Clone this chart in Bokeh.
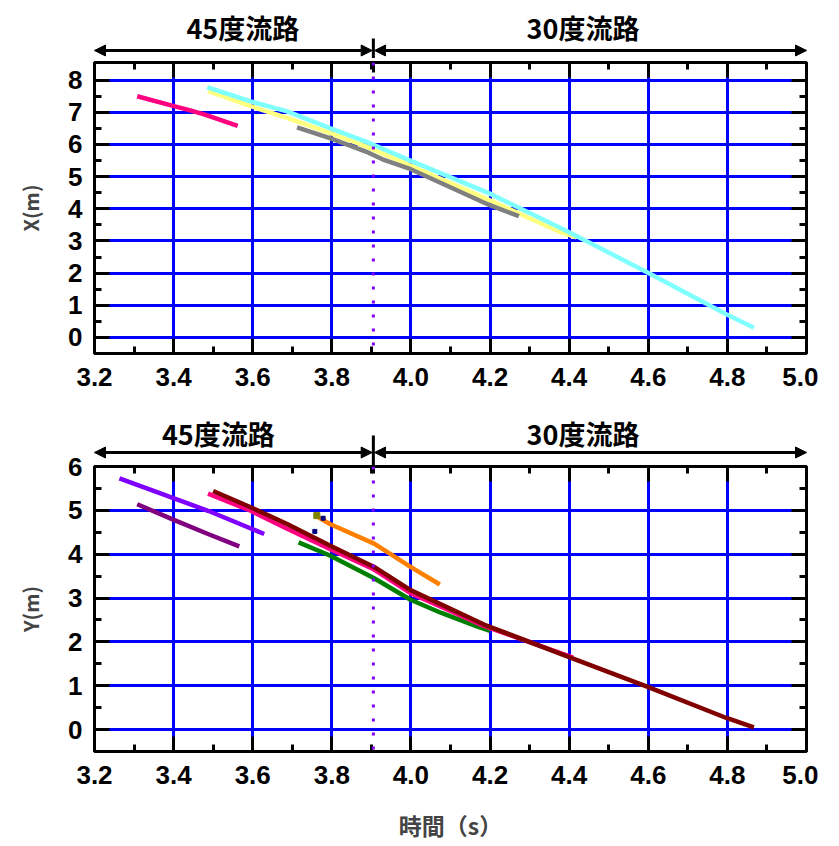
from bokeh.plotting import figure
from bokeh.models import (LinearAxis, FixedTicker, Range1d, Span, Label, Arrow,
                          NormalHead, PrintfTickFormatter)
from bokeh.layouts import column
from bokeh.embed import file_html
from bokeh.resources import INLINE

# ---------------- data ----------------
x_major = [3.2, 3.4, 3.6, 3.8, 4.0, 4.2, 4.4, 4.6, 4.8, 5.0]
x_minor = [3.3, 3.5, 3.7, 3.9, 4.1, 4.3, 4.5, 4.7, 4.9]
yX_major = [0, 1, 2, 3, 4, 5, 6, 7, 8]
yX_minor = [0.5, 1.5, 2.5, 3.5, 4.5, 5.5, 6.5, 7.5]
yY_major = [0, 1, 2, 3, 4, 5, 6]
yY_minor = [0.5, 1.5, 2.5, 3.5, 4.5, 5.5]

boundary_t = 3.905
section_labels = ["45度流路", "30度流路"]

# top chart: X(m)
pinkX_t = [3.308, 3.396, 3.442, 3.479, 3.562]
pinkX_v = [7.50, 7.21, 7.06, 6.93, 6.58]
yellowX_t = [3.487, 3.595, 3.687, 3.795, 3.886, 3.994, 4.198, 4.377, 4.418]
yellowX_v = [7.66, 7.19, 6.83, 6.36, 5.94, 5.37, 4.27, 3.28, 3.11]
cyanX_t = [3.485, 3.595, 3.687, 3.795, 3.886, 3.994, 4.198, 4.390, 4.597, 4.796, 4.867]
cyanX_v = [7.78, 7.34, 7.03, 6.51, 6.09, 5.52, 4.48, 3.33, 2.03, 0.73, 0.30]
grayX_t = [3.712, 3.795, 3.886, 3.928, 3.994, 4.198, 4.273]
grayX_v = [6.53, 6.20, 5.78, 5.54, 5.26, 4.12, 3.77]

# bottom chart: Y(m)
violetY_t = [3.263, 3.396, 3.487, 3.629]
violetY_v = [5.73, 5.29, 4.99, 4.46]
purpleY_t = [3.308, 3.396, 3.487, 3.566]
purpleY_v = [5.14, 4.80, 4.46, 4.18]
pinkY_t = [3.487, 3.595, 3.687, 3.795, 3.907, 3.999, 4.186, 4.410]
pinkY_v = [5.38, 4.99, 4.58, 4.12, 3.65, 3.11, 2.36, 1.64]
maroonY_t = [3.500, 3.595, 3.687, 3.795, 3.907, 3.999, 4.186, 4.410, 4.597, 4.796, 4.867]
maroonY_v = [5.44, 5.07, 4.69, 4.20, 3.71, 3.18, 2.39, 1.62, 0.98, 0.27, 0.05]
greenY_t = [3.716, 3.795, 3.907, 3.999, 4.077, 4.165, 4.200]
greenY_v = [4.27, 3.97, 3.45, 2.96, 2.66, 2.36, 2.25]
orangeY_t = [3.766, 3.795, 3.907, 3.999, 4.073]
orangeY_v = [4.84, 4.69, 4.24, 3.71, 3.31]
oliveY_t = [3.762]
oliveY_v = [4.88]
navyY_t = [3.778, 3.757]
navyY_v = [4.82, 4.52]

TICK_FONT = "Liberation Sans"
CJK_FONT = "Noto Sans CJK JP"
LW = 4.5
BL = 94   # left border
BR = 12   # right border
FIG_W = 818


def style_axis(ax, major, minor, show_labels, fmt=None):
    ax.ticker = FixedTicker(ticks=major, minor_ticks=minor)
    ax.axis_line_width = 3
    ax.axis_line_color = "black"
    ax.major_tick_in = 15
    ax.major_tick_out = 0
    ax.minor_tick_in = 7
    ax.minor_tick_out = 0
    ax.major_tick_line_width = 3
    ax.minor_tick_line_width = 3
    ax.major_tick_line_color = "black"
    ax.minor_tick_line_color = "black"
    if fmt is not None:
        ax.formatter = fmt
    if show_labels:
        ax.major_label_text_font = TICK_FONT
        ax.major_label_text_font_style = "bold"
        ax.major_label_text_font_size = "26px"
        ax.major_label_text_color = "black"
    else:
        ax.major_label_text_color = None
        ax.major_label_text_font_size = "1px"
        ax.major_label_standoff = 0


def make_header(height, y_arrow, y_text, y_vtop, x45, x_range):
    h = figure(width=FIG_W, height=height, x_range=x_range, y_range=Range1d(0, height),
               output_backend="svg", toolbar_location=None,
               x_axis_location=None, y_axis_location=None,
               min_border_left=BL, min_border_right=BR, min_border_top=0,
               min_border_bottom=0)
    h.outline_line_color = None
    h.xgrid.visible = False
    h.ygrid.visible = False
    head = dict(size=11, fill_color="black", line_color="black", line_width=1)
    h.add_layout(Arrow(x_start=3.2, y_start=y_arrow, x_end=boundary_t - 0.003, y_end=y_arrow,
                       start=NormalHead(**head), end=NormalHead(**head),
                       line_width=3, line_color="black"))
    h.add_layout(Arrow(x_start=boundary_t + 0.003, y_start=y_arrow, x_end=5.0, y_end=y_arrow,
                       start=NormalHead(**head), end=NormalHead(**head),
                       line_width=3, line_color="black"))
    h.segment(x0=[boundary_t], y0=[y_vtop], x1=[boundary_t], y1=[0],
              line_color="black", line_width=3)
    for txt, xx in zip(section_labels, [x45, 4.435]):
        h.add_layout(Label(x=xx, y=y_text, text=txt, text_align="center",
                           text_baseline="middle", text_font=CJK_FONT,
                           text_font_style="bold", text_font_size="27px",
                           text_color="black"))
    return h


def make_fig(height, btop, bbottom, yr, ymaj, ymin, ylabel, div_out, div_in, xlabel=None):
    p = figure(width=FIG_W, height=height, x_range=Range1d(3.2, 5.0),
               y_range=Range1d(*yr), output_backend="svg", toolbar_location=None,
               min_border_left=BL, min_border_right=BR,
               min_border_top=btop, min_border_bottom=bbottom)
    p.background_fill_color = "white"
    p.border_fill_color = None
    p.outline_line_color = "black"
    p.outline_line_width = 3

    bx = p.xaxis[0]
    style_axis(bx, x_major, x_minor, True, PrintfTickFormatter(format="%.1f"))
    bx.major_label_standoff = 14
    if xlabel:
        bx.axis_label = xlabel
        bx.axis_label_text_font = CJK_FONT
        bx.axis_label_text_font_style = "bold"
        bx.axis_label_text_font_size = "23px"
        bx.axis_label_standoff = 21
    ly = p.yaxis[0]
    style_axis(ly, ymaj, ymin, True)
    ly.major_label_standoff = 12
    ly.axis_label = ylabel
    ly.axis_label_text_font = CJK_FONT
    ly.axis_label_text_font_style = "bold"
    ly.axis_label_text_font_size = "20px"
    ly.axis_label_standoff = 20

    tx = LinearAxis()
    style_axis(tx, x_major, x_minor, False)
    p.add_layout(tx, "above")
    ry = LinearAxis()
    style_axis(ry, ymaj, ymin, False)
    p.add_layout(ry, "right")

    # section divider crossing the top frame edge
    dv = LinearAxis(fixed_location=yr[1])
    style_axis(dv, [boundary_t], [], False)
    dv.axis_line_color = None
    dv.major_tick_out = div_out
    dv.major_tick_in = div_in
    p.add_layout(dv, "above")

    p.xgrid.ticker = FixedTicker(ticks=x_major)
    p.ygrid.ticker = FixedTicker(ticks=ymaj)
    for g in (p.xgrid[0], p.ygrid[0]):
        g.grid_line_color = "#0000ff"
        g.grid_line_width = 3
        g.grid_line_alpha = 1.0

    p.add_layout(Span(location=boundary_t, dimension="height", line_color="#8000ff",
                      line_width=3, line_dash="3 11"))
    return p


# ---------------- top: X(m) ----------------
p1 = make_fig(350, 4, 55, (-0.5, 8.55), yX_major, yX_minor, "X(m)", 6, 10)
p1.line(pinkX_t, pinkX_v, line_color="#ff0080", line_width=LW)
p1.line(yellowX_t, yellowX_v, line_color="#ffff80", line_width=LW)
p1.line(cyanX_t, cyanX_v, line_color="#80ffff", line_width=LW)
p1.line(grayX_t, grayX_v, line_color="#808080", line_width=LW)
h1 = make_header(58, 8, 31, 20, 3.575, p1.x_range)

# ---------------- bottom: Y(m) ----------------
OVER = 20
p2 = make_fig(OVER + 288 + 90, OVER, 90, (-0.5, 6.0), yY_major, yY_minor, "Y(m)", 4, 7,
              "時間（s）")
p2.margin = (-OVER, 0, 0, 0)
p2.line(violetY_t, violetY_v, line_color="#8000ff", line_width=LW)
p2.line(purpleY_t, purpleY_v, line_color="#800080", line_width=LW)
p2.line(greenY_t, greenY_v, line_color="#008000", line_width=LW)
p2.line(pinkY_t, pinkY_v, line_color="#ff0080", line_width=LW)
p2.line(maroonY_t, maroonY_v, line_color="#800000", line_width=LW)
p2.line(orangeY_t, orangeY_v, line_color="#ff8000", line_width=LW)
p2.scatter(oliveY_t, oliveY_v, marker="square", size=6, color="#808000")
p2.scatter(navyY_t, navyY_v, marker="square", size=4, color="#000080")
h2 = make_header(58, 14, 33, 31, 3.513, p2.x_range)

layout = column(h1, p1, h2, p2, spacing=0)
open("out.html", "w").write(file_html(layout, INLINE))
